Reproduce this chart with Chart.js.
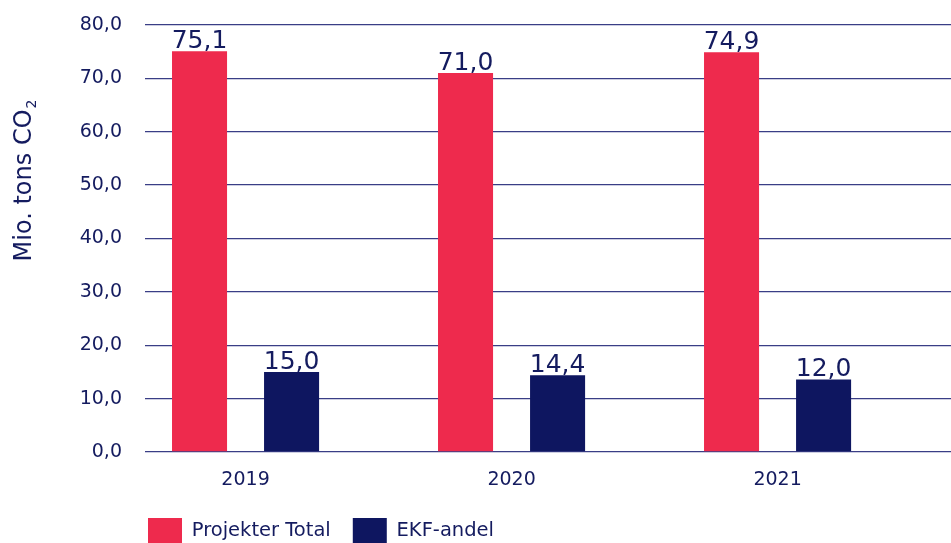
<!DOCTYPE html>
<html>
<head>
<meta charset="utf-8">
<script src="https://cdn.jsdelivr.net/npm/chart.js@4.4.0/dist/chart.umd.min.js"></script>
<style>
  html, body { margin: 0; padding: 0; background: #fff; }
  #wrap { width: 951px; height: 543px; }
</style>
</head>
<body>
<div id="wrap"><canvas id="chart"></canvas></div>
<script>
const years = [2019, 2020, 2021];
const projekterTotal = [75.1, 71.0, 74.9];
const ekfAndel = [15.0, 14.4, 13.6];
const projekterText = ['75,1', '71,0', '74,9'];
const ekfText = ['15,0', '14,4', '12,0'];
const yTickValues = [0, 10, 20, 30, 40, 50, 60, 70, 80];

const RED = '#ee2a4d';
const NAVY = '#0e1660';
const TEXT = '#141b5f';
const FONT = '"DejaVu Sans", sans-serif';

// tal over søjlerne
const valueLabels = {
  id: 'valueLabels',
  afterDatasetsDraw(chart) {
    const texts = [projekterText, ekfText];
    const ctx = chart.ctx;
    ctx.save();
    ctx.font = '25px ' + FONT;
    ctx.fillStyle = TEXT;
    ctx.textAlign = 'center';
    ctx.textBaseline = 'alphabetic';
    chart.data.datasets.forEach((ds, i) => {
      chart.getDatasetMeta(i).data.forEach((bar, j) => {
        ctx.fillText(texts[i][j], bar.x, bar.y - 3);
      });
    });
    ctx.restore();
  }
};

// y-akse titel med sænket 2-tal
const yTitle = {
  id: 'yTitle',
  afterDraw(chart) {
    const ctx = chart.ctx;
    ctx.save();
    ctx.translate(31, 181);
    ctx.rotate(-Math.PI / 2);
    ctx.fillStyle = TEXT;
    ctx.textBaseline = 'alphabetic';
    ctx.font = '24px ' + FONT;
    const main = 'Mio. tons CO';
    const w = ctx.measureText(main).width;
    ctx.font = '14px ' + FONT;
    const w2 = ctx.measureText('2').width;
    const start = -(w + w2) / 2;
    ctx.font = '24px ' + FONT;
    ctx.textAlign = 'left';
    ctx.fillText(main, start, 0);
    ctx.font = '14px ' + FONT;
    ctx.fillText('2', start + w + 1, 5);
    ctx.restore();
  }
};

// flyt legenden ind under plottet
const legendShift = {
  id: 'legendShift',
  afterLayout(chart) {
    chart.legend.left = 126;
    chart.legend.top -= 12;
    chart.legend.bottom -= 12;
  }
};

const ctx = document.getElementById('chart').getContext('2d');
new Chart(ctx, {
  type: 'bar',
  data: {
    labels: years,
    datasets: [
      { label: 'Projekter Total', data: projekterTotal, backgroundColor: RED },
      { label: 'EKF-andel', data: ekfAndel, backgroundColor: NAVY }
    ]
  },
  options: {
    responsive: true,
    maintainAspectRatio: false,
    animation: false,
    categoryPercentage: 0.692,
    barPercentage: 0.598,
    layout: { padding: { top: 25, left: 0, right: 0, bottom: -23 } },
    plugins: {
      tooltip: { enabled: false },
      legend: {
        position: 'bottom',
        align: 'start',
        labels: {
          boxWidth: 34,
          boxHeight: 26,
          padding: 22,
          color: TEXT,
          font: { family: FONT, size: 19.5 }
        }
      }
    },
    scales: {
      x: {
        type: 'linear',
        min: 2018.622,
        max: 2021.652,
        offset: false,
        grid: { display: false, drawTicks: false },
        border: { display: false },
        ticks: {
          stepSize: 1,
          includeBounds: false,
          maxRotation: 0,
          padding: 16.6,
          color: TEXT,
          font: { family: FONT, size: 19 },
          callback: v => years.includes(v) ? String(v) : ''
        }
      },
      y: {
        min: 0,
        max: 80,
        afterFit(scale) {
          scale.width = 145;
          scale.paddingTop = 0;
          scale.paddingBottom = 0;
        },
        afterBuildTicks(scale) { scale.ticks = yTickValues.map(v => ({ value: v })); },
        grid: { color: '#3a3e86', lineWidth: 1.3, drawTicks: false },
        border: { display: false },
        ticks: {
          padding: 23,
          color: TEXT,
          font: { family: FONT, size: 19 },
          callback: v => v.toFixed(1).replace('.', ',')
        }
      }
    }
  },
  plugins: [valueLabels, yTitle, legendShift]
});
</script>
</body>
</html>
